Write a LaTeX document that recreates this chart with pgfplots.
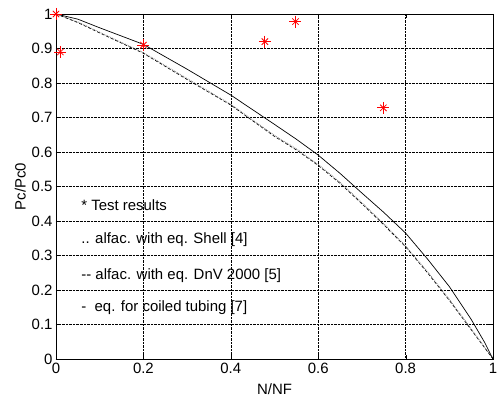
\documentclass[border=0pt]{standalone}
\usepackage{pgfplots}
\pgfplotsset{compat=1.18}
\usepackage{fontspec}
\setmainfont{Liberation Sans}
\begin{document}
\begin{tikzpicture}[x=1bp,y=1bp]
\begin{axis}[
  scale only axis,
  width=437bp, height=345bp,
  xmin=0, xmax=1, ymin=0, ymax=1,
  xtick={0,0.2,...,1}, ytick={0,0.1,...,1},
  xticklabels={0,0.2,0.4,0.6,0.8,1},
  yticklabels={0,0.1,0.2,0.3,0.4,0.5,0.6,0.7,0.8,0.9,1},
  tick align=inside, tick pos=both,
  major tick length=4bp,
  grid=major,
  grid style={black, densely dotted, line width=0.5pt},
  axis line style={black, line width=0.8pt},
  tick style={black},
  ticklabel style={font=\fontsize{15}{17}\selectfont},
  label style={font=\fontsize{15}{17}\selectfont},
  xticklabel style={yshift=-1bp},
  xlabel={N/NF}, ylabel={Pc/Pc0},
  xlabel style={yshift=-3bp},
  ylabel style={yshift=-1bp},
  clip mode=individual,
]
\addplot[gray, densely dotted, line width=0.8pt] coordinates {
(0,1)(0.05,0.977)(0.1,0.947)(0.2,0.888)(0.3,0.813)(0.4,0.738)(0.5,0.648)(0.55,0.609)(0.6,0.564)(0.65,0.512)(0.7,0.453)(0.75,0.392)(0.8,0.328)(0.85,0.253)(0.9,0.173)(0.95,0.088)(1,0)};
\addplot[black, densely dashed, line width=0.6pt] coordinates {
(0,1)(0.05,0.975)(0.1,0.945)(0.2,0.886)(0.3,0.81)(0.4,0.736)(0.5,0.645)(0.55,0.606)(0.6,0.561)(0.65,0.509)(0.7,0.45)(0.75,0.389)(0.8,0.325)(0.85,0.25)(0.9,0.17)(0.95,0.085)(1,0)};
\addplot[black, line width=0.7pt] coordinates {
(0,1)(0.05,0.985)(0.1,0.96)(0.2,0.912)(0.3,0.84)(0.4,0.765)(0.5,0.68)(0.55,0.637)(0.6,0.591)(0.65,0.538)(0.7,0.481)(0.75,0.425)(0.8,0.365)(0.85,0.29)(0.9,0.21)(0.95,0.115)(0.98,0.05)(1,0)};
\addplot[only marks, mark=+, mark size=6bp, red, line width=0.8pt] coordinates {
(0.0,1.0)(0.01,0.89)(0.2,0.91)(0.478,0.92)(0.548,0.978)(0.749,0.728)};
\addplot[only marks, mark=x, mark size=4.5bp, red, line width=0.8pt] coordinates {
(0.0,1.0)(0.01,0.89)(0.2,0.91)(0.478,0.92)(0.548,0.978)(0.749,0.728)};
\node[anchor=west, font=\fontsize{15}{17}\selectfont] at (axis cs:0.05,0.446) {* Test results};
\node[anchor=west, font=\fontsize{15}{17}\selectfont] at (axis cs:0.05,0.345) {.. alfac. with eq. Shell [4]};
\node[anchor=west, font=\fontsize{15}{17}\selectfont] at (axis cs:0.05,0.243) {{-}{-} alfac. with eq. DnV 2000 [5]};
\node[anchor=west, font=\fontsize{15}{17}\selectfont] at (axis cs:0.05,0.148) {-\ \ eq. for coiled tubing [7]};
\end{axis}
\pgfresetboundingbox
\path[use as bounding box] ([shift={(-56bp,-40bp)}]current axis.south west) rectangle ([shift={(4bp,14bp)}]current axis.north east);
\end{tikzpicture}
\end{document}
